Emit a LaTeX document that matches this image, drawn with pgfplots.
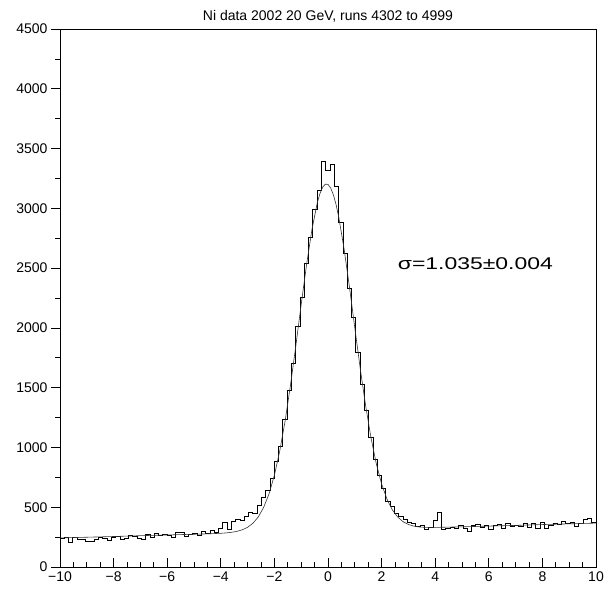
\documentclass[border=0pt]{standalone}
\usepackage{pgfplots}
\pgfplotsset{compat=1.18}
\usepackage{graphicx}
\usepackage{fontspec}
\setmainfont{Liberation Sans}
\usetikzlibrary{calc}
\begin{document}
\begin{tikzpicture}
\begin{axis}[
  name=main,
  scale only axis, width=536pt, height=538pt,
  xmin=-10, xmax=10, ymin=0, ymax=4500,
  xtick={-10,-8,-6,-4,-2,0,2,4,6,8,10},
  xticklabels={−10,−8,−6,−4,−2,0,2,4,6,8,10},
  ytick={0,500,1000,1500,2000,2500,3000,3500,4000,4500},
  yticklabels={0,500,1000,1500,2000,2500,3000,3500,4000,4500},
  minor x tick num=3, minor y tick num=1,
  xtick pos=bottom, ytick pos=left,
  tick align=inside,
  major tick length=9pt, minor tick length=5pt,
  major y tick style={xshift=-9pt},
  minor y tick style={xshift=-5pt},
  tick style={black, line width=0.7pt},
  axis line style={black, line width=0.8pt},
  ticklabel style={font=\fontsize{14}{16}\selectfont},
  yticklabel style={xshift=-9pt},
  xticklabel style={yshift=-1pt},
  title={Ni data 2002 20 GeV, runs 4302 to 4999},
  title style={font=\fontsize{14}{16}\selectfont, yshift=-3pt},
]
% histogram (bin width 0.16, left edges)
\addplot[const plot, black, line width=1pt] coordinates {
(-10.00,240) (-9.84,250) (-9.68,205) (-9.52,245) (-9.36,228) (-9.20,232)
(-9.04,212) (-8.88,210) (-8.72,228) (-8.56,248) (-8.40,240) (-8.24,222)
(-8.08,245) (-7.92,252) (-7.76,232) (-7.60,238) (-7.44,262) (-7.28,255)
(-7.12,236) (-6.96,228) (-6.80,270) (-6.64,248) (-6.48,282) (-6.32,262)
(-6.16,268) (-6.00,262) (-5.84,248) (-5.68,285) (-5.52,286) (-5.36,258)
(-5.20,272) (-5.04,282) (-4.88,262) (-4.72,300) (-4.56,278) (-4.40,308)
(-4.24,292) (-4.08,318) (-3.92,368) (-3.76,312) (-3.60,382) (-3.44,398)
(-3.28,385) (-3.12,425) (-2.96,452) (-2.80,448) (-2.64,515) (-2.48,580)
(-2.32,640) (-2.16,742) (-2.00,880) (-1.84,1010) (-1.68,1230) (-1.52,1480)
(-1.36,1700) (-1.20,2010) (-1.04,2250) (-0.88,2540) (-0.72,2760) (-0.56,2990)
(-0.40,3150) (-0.24,3390) (-0.08,3320) (0.08,3370) (0.24,3180) (0.40,2880)
(0.56,2620) (0.72,2330) (0.88,2085) (1.04,1790) (1.20,1530) (1.36,1310)
(1.52,1080) (1.68,900) (1.84,765) (2.00,660) (2.16,545) (2.32,510)
(2.48,445) (2.64,420) (2.80,395) (2.96,368) (3.12,360) (3.28,340)
(3.44,350) (3.60,315) (3.76,332) (3.92,392) (4.08,452) (4.24,310)
(4.40,325) (4.56,328) (4.72,318) (4.88,345) (5.04,322) (5.20,298)
(5.36,350) (5.52,358) (5.68,330) (5.84,345) (6.00,312) (6.16,350)
(6.32,355) (6.48,320) (6.64,365) (6.80,342) (6.96,348) (7.12,338)
(7.28,360) (7.44,330) (7.60,365) (7.76,322) (7.92,370) (8.08,318)
(8.24,345) (8.40,362) (8.56,355) (8.72,378) (8.88,365) (9.04,368)
(9.20,340) (9.36,360) (9.52,395) (9.68,405) (9.84,372) (10.00,372)
};
% fit curve
\addplot[black!80, line width=0.6pt] coordinates {
(-10,243) (-9,249) (-8,255) (-7,262) (-6,268) (-5,274) (-4.5,277) (-4.0,282)
(-3.8,285) (-3.6,290) (-3.4,298) (-3.2,311) (-3.0,332) (-2.8,366) (-2.6,419)
(-2.4,499) (-2.2,612) (-2.0,768) (-1.8,971) (-1.6,1222) (-1.4,1520)
(-1.2,1851) (-1.0,2196) (-0.8,2529) (-0.6,2822) (-0.4,3046) (-0.3,3124)
(-0.2,3177) (-0.1,3202) (0,3200) (0.1,3170) (0.2,3113) (0.3,3032) (0.4,2927)
(0.6,2661) (0.8,2343) (1.0,2001) (1.2,1665) (1.4,1355) (1.6,1086) (1.8,866)
(2.0,695) (2.2,568) (2.4,478) (2.6,418) (2.8,379) (3.0,356) (3.2,342)
(3.4,335) (3.6,332) (3.8,331) (4.0,331) (5,336) (6,342) (7,348) (8,355)
(9,361) (10,367)
};
\node[anchor=west, inner sep=0pt] at (axis cs:2.6,2540)
  {\scalebox{1.35}[1]{\fontsize{17}{20}\selectfont σ=1.035±0.004}};
\end{axis}
\pgfresetboundingbox
\path[use as bounding box] ($(main.south west)+(-60pt,-23pt)$) rectangle ($(main.north east)+(9pt,29pt)$);
\end{tikzpicture}
\end{document}
